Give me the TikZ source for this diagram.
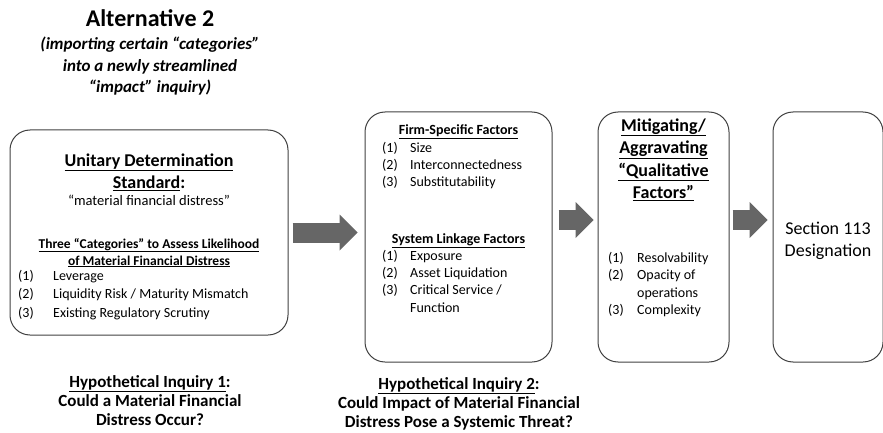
\documentclass[tikz,border=0pt]{standalone}
\usepackage{fontspec}
\setmainfont{Carlito}
\usetikzlibrary{positioning, arrows.meta, calc}

\begin{document}
\begin{tikzpicture}[x=1pt, y=-1pt,
                stagebox/.style={draw=black!75, line width=1pt, rounded corners=20pt, inner sep=0pt},
                headline/.style={font=\bfseries\fontsize{18}{22.6}\selectfont, align=center, anchor=base, inner sep=0pt},
                plainline/.style={font=\fontsize{14}{17}\selectfont, align=center, anchor=base, inner sep=0pt},
                factorlist/.style={font=\fontsize{14}{17.3}\selectfont, align=left, anchor=base west, inner sep=0pt},
                inquiry/.style={font=\bfseries\fontsize{17}{19}\selectfont, align=center, anchor=base, inner sep=0pt},
                blockarrow/.style={draw=black!60, line width=20pt, -{Triangle[length=18pt, width=36pt, line width=0pt]}}
            ]

            \useasboundingbox (0,0) rectangle (883,433);

            % Titel (mehrzeilige Knoten: base = letzte Zeile)
            \node[font=\bfseries\fontsize{24}{28}\selectfont, anchor=base, inner sep=0pt] (title) at (150,27) {Alternative 2};
            \node[font=\bfseries\itshape\fontsize{17}{21.5}\selectfont, align=center, anchor=base, inner sep=0pt] (subtitle) at (150,93) {(importing certain “categories”\\into a newly streamlined\\“impact” inquiry)};

            % Kaesten
            \node[stagebox, minimum width=278pt, minimum height=205pt] (unitary) at (149,232.5) {};
            \node[stagebox, minimum width=187pt, minimum height=250pt] (firm) at (458.5,237) {};
            \node[stagebox, minimum width=131pt, minimum height=250pt] (qual) at (663.5,237) {};
            \node[stagebox, minimum width=110pt, minimum height=250pt] (designation) at (828,237) {};

            % Inhalt Kasten 1
            \node[headline] (unitaryhead) at (149,188.6) {\underline{Unitary Determination}\\\underline{Standard}:};
            \node[plainline, font=\fontsize{14.5}{17}\selectfont] (distress) at (149,205) {“material financial distress”};
            \node[plainline, font=\bfseries\fontsize{13.5}{17}\selectfont] (categories) at (149,265) {\underline{Three “Categories” to Assess Likelihood}\\\underline{of Material Financial Distress}};
            \node[factorlist, font=\fontsize{14}{18.5}\selectfont] (catlist) at (18,317) {\makebox[35pt][l]{(1)}Leverage\\\makebox[35pt][l]{(2)}Liquidity Risk / Maturity Mismatch\\\makebox[35pt][l]{(3)}Existing Regulatory Scrutiny};

            % Inhalt Kasten 2
            \node[plainline, font=\bfseries\fontsize{14}{17}\selectfont] (firmhead) at (458.5,135) {\underline{Firm-Specific Factors}};
            \node[factorlist] (firmlist) at (382,186.6) {\makebox[28pt][l]{(1)}Size\\\makebox[28pt][l]{(2)}Interconnectedness\\\makebox[28pt][l]{(3)}Substitutability};
            \node[plainline, font=\bfseries\fontsize{14}{17}\selectfont] (linkhead) at (458.5,243) {\underline{System Linkage Factors}};
            \node[factorlist] (linklist) at (382,312) {\makebox[28pt][l]{(1)}Exposure\\\makebox[28pt][l]{(2)}Asset Liquidation\\\makebox[28pt][l]{(3)}Critical Service /\\\makebox[28pt][l]{}Function};

            % Inhalt Kasten 3
            \node[headline] (qualhead) at (663.5,198.8) {\underline{Mitigating/}\\\underline{Aggravating}\\\underline{“Qualitative}\\\underline{Factors”}};
            \node[factorlist, font=\fontsize{14}{17.5}\selectfont] (quallist) at (608,314.5) {\makebox[29pt][l]{(1)}Resolvability\\\makebox[29pt][l]{(2)}Opacity of\\\makebox[29pt][l]{}operations\\\makebox[29pt][l]{(3)}Complexity};

            % Inhalt Kasten 4
            \node[plainline, font=\fontsize{18}{22}\selectfont] (section) at (828,256) {Section 113\\Designation};

            % Fragen unten
            \node[inquiry] (inquiryA) at (150,425) {\underline{Hypothetical Inquiry 1}:\\Could a Material Financial\\Distress Occur?};
            \node[inquiry] (inquiryB) at (459,427) {\underline{Hypothetical Inquiry 2}:\\Could Impact of Material Financial\\Distress Pose a Systemic Threat?};

            % Pfeile zwischen Kaesten
            \draw[blockarrow, shorten <=4pt, shorten >=7pt] (unitary.east) -- (unitary.east -| firm.west);
            \draw[blockarrow, shorten <=6pt, shorten >=4pt] ($(firm.east)+(0,-17)$) -- ($(qual.west)+(0,-17)$);
            \draw[blockarrow, shorten <=3pt, shorten >=5pt] ($(qual.east)+(0,-17)$) -- ($(designation.west)+(0,-17)$);

        \end{tikzpicture}
\end{document}
